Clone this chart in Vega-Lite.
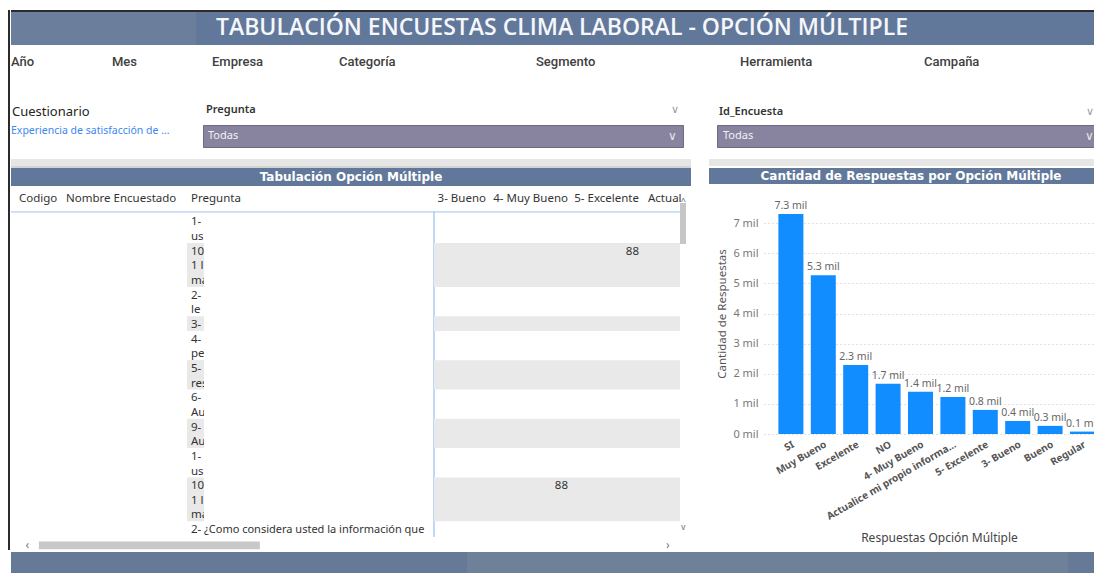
{
"$schema": "https://vega.github.io/schema/vega-lite/v6.json",
"usermeta": {"embedOptions": {"actions": false}},
"background": "white",
"padding": {"left": 8, "top": 10, "right": 0, "bottom": 0},
"config": {"view": {"stroke": null}, "font": "Noto Sans", "text": {"font": "Noto Sans"}},
"datasets": {
  "respuestas": [
    {"opcion": "SI", "respuestas": 7300},
    {"opcion": "Muy Bueno", "respuestas": 5270},
    {"opcion": "Excelente", "respuestas": 2290},
    {"opcion": "NO", "respuestas": 1670},
    {"opcion": "4- Muy Bueno", "respuestas": 1400},
    {"opcion": "Actualice mi propio información", "respuestas": 1230},
    {"opcion": "5- Excelente", "respuestas": 800},
    {"opcion": "3- Bueno", "respuestas": 430},
    {"opcion": "Bueno", "respuestas": 270},
    {"opcion": "Regular", "respuestas": 80}
  ],
  "bandas": [
    {"k0": 2.4, "k1": 5.4}, {"k0": 7.4, "k1": 8.4}, {"k0": 10.4, "k1": 12.4}, {"k0": 14.4, "k1": 16.4}, {"k0": 18.4, "k1": 21.4}
  ],
  "celdas": [
    {"col": "codigo", "tipo": "h", "k": -0.6, "t": "Codigo"},
    {"col": "nombre", "tipo": "h", "k": -0.6, "t": "Nombre Encuestado"},
    {"col": "pregunta", "tipo": "h", "k": -0.6, "t": "Pregunta"},
    {"col": "pregunta", "tipo": "b", "k": 1, "t": "1-"},
    {"col": "pregunta", "tipo": "b", "k": 2, "t": "us"},
    {"col": "pregunta", "tipo": "b", "k": 3, "t": "10"},
    {"col": "pregunta", "tipo": "b", "k": 4, "t": "1 l"},
    {"col": "pregunta", "tipo": "b", "k": 5, "t": "ma"},
    {"col": "pregunta", "tipo": "b", "k": 6, "t": "2-"},
    {"col": "pregunta", "tipo": "b", "k": 7, "t": "le"},
    {"col": "pregunta", "tipo": "b", "k": 8, "t": "3-"},
    {"col": "pregunta", "tipo": "b", "k": 9, "t": "4-"},
    {"col": "pregunta", "tipo": "b", "k": 10, "t": "pe"},
    {"col": "pregunta", "tipo": "b", "k": 11, "t": "5-"},
    {"col": "pregunta", "tipo": "b", "k": 12, "t": "res"},
    {"col": "pregunta", "tipo": "b", "k": 13, "t": "6-"},
    {"col": "pregunta", "tipo": "b", "k": 14, "t": "Au"},
    {"col": "pregunta", "tipo": "b", "k": 15, "t": "9-"},
    {"col": "pregunta", "tipo": "b", "k": 16, "t": "Au"},
    {"col": "pregunta", "tipo": "b", "k": 17, "t": "1-"},
    {"col": "pregunta", "tipo": "b", "k": 18, "t": "us"},
    {"col": "pregunta", "tipo": "b", "k": 19, "t": "10"},
    {"col": "pregunta", "tipo": "b", "k": 20, "t": "1 l"},
    {"col": "pregunta", "tipo": "b", "k": 21, "t": "ma"},
    {"col": "pregunta", "tipo": "b", "k": 22, "t": "2-"},
    {"col": "pregunta2", "tipo": "b", "k": 22, "t": "¿Como considera usted la información que"},
    {"col": "bueno3", "tipo": "h", "k": -0.6, "t": "3- Bueno"},
    {"col": "muybueno4", "tipo": "h", "k": -0.6, "t": "4- Muy Bueno"},
    {"col": "muybueno4", "tipo": "b", "k": 19, "t": "88"},
    {"col": "excelente5", "tipo": "h", "k": -0.6, "t": "5- Excelente"},
    {"col": "excelente5", "tipo": "b", "k": 3, "t": "88"},
    {"col": "actual", "tipo": "h", "k": -0.6, "t": "Actual"}
  ]
},
"spacing": 0,
"hconcat": [
  {"width": 2, "height": 540, "data": {"values": []}, "mark": "text", "view": {"fill": "#2b2b2b"}},
  {"spacing": 0, "vconcat": [
    {"width": 1084, "height": 2, "data": {"values": []}, "mark": "text", "view": {"fill": "#2b2b2b"}},
    {"spacing": 0, "bounds": "flush", "hconcat": [
      {"width": 185, "height": 33, "data": {"values": []}, "mark": "text", "view": {"fill": "#6b7f9c"}},
      {"width": 899, "height": 33, "view": {"fill": "#62789a"}, "data": {"values": [{"t": "TABULACIÓN ENCUESTAS CLIMA LABORAL - OPCIÓN MÚLTIPLE"}]},
       "mark": {"type": "text", "font": "Open Sans", "fontWeight": 600, "fontSize": 23, "color": "#f5f7fa", "dx": -83.5, "dy": -0.5},
       "encoding": {"text": {"field": "t"}}}
    ]},
    {"spacing": 0, "bounds": "flush", "hconcat": [
      {"width": 101, "height": 55, "data": {"values": [{"t": "Año"}]}, "mark": {"type": "text", "align": "left", "dy": -10.5, "font": "Roboto", "fontWeight": 500, "fontSize": 13, "color": "#404040"}, "encoding": {"text": {"field": "t"}, "x": {"datum": 0, "type": "quantitative", "scale": {"domain": [0, 1]}, "axis": null}}},
      {"width": 100, "height": 55, "data": {"values": [{"t": "Mes"}]}, "mark": {"type": "text", "align": "left", "dy": -10.5, "font": "Roboto", "fontWeight": 500, "fontSize": 13, "color": "#404040"}, "encoding": {"text": {"field": "t"}, "x": {"datum": 0, "type": "quantitative", "scale": {"domain": [0, 1]}, "axis": null}}},
      {"width": 127, "height": 55, "data": {"values": [{"t": "Empresa"}]}, "mark": {"type": "text", "align": "left", "dy": -10.5, "font": "Roboto", "fontWeight": 500, "fontSize": 13, "color": "#404040"}, "encoding": {"text": {"field": "t"}, "x": {"datum": 0, "type": "quantitative", "scale": {"domain": [0, 1]}, "axis": null}}},
      {"width": 197, "height": 55, "data": {"values": [{"t": "Categoría"}]}, "mark": {"type": "text", "align": "left", "dy": -10.5, "font": "Roboto", "fontWeight": 500, "fontSize": 13, "color": "#404040"}, "encoding": {"text": {"field": "t"}, "x": {"datum": 0, "type": "quantitative", "scale": {"domain": [0, 1]}, "axis": null}}},
      {"width": 204, "height": 55, "data": {"values": [{"t": "Segmento"}]}, "mark": {"type": "text", "align": "left", "dy": -10.5, "font": "Roboto", "fontWeight": 500, "fontSize": 13, "color": "#404040"}, "encoding": {"text": {"field": "t"}, "x": {"datum": 0, "type": "quantitative", "scale": {"domain": [0, 1]}, "axis": null}}},
      {"width": 184, "height": 55, "data": {"values": [{"t": "Herramienta"}]}, "mark": {"type": "text", "align": "left", "dy": -10.5, "font": "Roboto", "fontWeight": 500, "fontSize": 13, "color": "#404040"}, "encoding": {"text": {"field": "t"}, "x": {"datum": 0, "type": "quantitative", "scale": {"domain": [0, 1]}, "axis": null}}},
      {"width": 171, "height": 55, "data": {"values": [{"t": "Campaña"}]}, "mark": {"type": "text", "align": "left", "dy": -10.5, "font": "Roboto", "fontWeight": 500, "fontSize": 13, "color": "#404040"}, "encoding": {"text": {"field": "t"}, "x": {"datum": 0, "type": "quantitative", "scale": {"domain": [0, 1]}, "axis": null}}}
    ]},
    {"spacing": 0, "bounds": "flush", "hconcat": [
      {"width": 192, "height": 24, "data": {"values": [{"t": "Cuestionario"}]}, "mark": {"type": "text", "align": "left", "dx": 1, "fontSize": 13, "color": "#252423"}, "encoding": {"text": {"field": "t"}, "x": {"datum": 0, "type": "quantitative", "scale": {"domain": [0, 1]}, "axis": null}}},
      {"width": 480, "height": 24, "layer": [
        {"data": {"values": [{"t": "Pregunta"}]}, "mark": {"type": "text", "align": "left", "dx": 3, "dy": -2, "fontSize": 11, "fontWeight": 600, "color": "#333333"}, "encoding": {"text": {"field": "t"}, "x": {"datum": 0, "type": "quantitative", "scale": {"domain": [0, 1]}, "axis": null}}},
        {"data": {"values": [{"t": "∨"}]}, "mark": {"type": "text", "align": "right", "dx": -4, "dy": -2, "fontSize": 11, "color": "#9a9a9a"}, "encoding": {"text": {"field": "t"}, "x": {"datum": 1, "type": "quantitative", "scale": {"domain": [0, 1]}, "axis": null}}}
      ]},
      {"width": 34, "height": 24, "data": {"values": []}, "mark": "text"},
      {"width": 378, "height": 24, "layer": [
        {"data": {"values": [{"t": "Id_Encuesta"}]}, "mark": {"type": "text", "align": "left", "dx": 2, "fontSize": 11, "fontWeight": 600, "color": "#333333"}, "encoding": {"text": {"field": "t"}, "x": {"datum": 0, "type": "quantitative", "scale": {"domain": [0, 1]}, "axis": null}}},
        {"data": {"values": [{"t": "∨"}]}, "mark": {"type": "text", "align": "right", "dx": -1, "fontSize": 11, "color": "#9a9a9a"}, "encoding": {"text": {"field": "t"}, "x": {"datum": 1, "type": "quantitative", "scale": {"domain": [0, 1]}, "axis": null}}}
      ]}
    ]},
    {"spacing": 0, "bounds": "flush", "hconcat": [
      {"width": 192, "height": 22, "data": {"values": [{"t": "Experiencia de satisfacción de ..."}]}, "mark": {"type": "text", "align": "left", "dy": -5, "fontSize": 10.5, "color": "#3b87ef", "clip": true}, "encoding": {"text": {"field": "t"}, "x": {"datum": 0, "type": "quantitative", "scale": {"domain": [0, 1]}, "axis": null}}},
      {"width": 480, "height": 22, "view": {"fill": "#8884a0", "stroke": "#6d6a86"}, "layer": [
        {"data": {"values": [{"t": "Todas"}]}, "mark": {"type": "text", "align": "left", "dx": 5, "fontSize": 11, "color": "#f2f2f2"}, "encoding": {"text": {"field": "t"}, "x": {"datum": 0, "type": "quantitative", "scale": {"domain": [0, 1]}, "axis": null}}},
        {"data": {"values": [{"t": "∨"}]}, "mark": {"type": "text", "align": "right", "dx": -6, "fontSize": 12, "color": "#e6e6ee"}, "encoding": {"text": {"field": "t"}, "x": {"datum": 1, "type": "quantitative", "scale": {"domain": [0, 1]}, "axis": null}}}
      ]},
      {"width": 34, "height": 22, "data": {"values": []}, "mark": "text"},
      {"width": 378, "height": 22, "view": {"fill": "#8884a0", "stroke": "#6d6a86"}, "layer": [
        {"data": {"values": [{"t": "Todas"}]}, "mark": {"type": "text", "align": "left", "dx": 6, "fontSize": 11, "color": "#f2f2f2"}, "encoding": {"text": {"field": "t"}, "x": {"datum": 0, "type": "quantitative", "scale": {"domain": [0, 1]}, "axis": null}}},
        {"data": {"values": [{"t": "∨"}]}, "mark": {"type": "text", "align": "right", "dx": -1, "fontSize": 12, "color": "#e6e6ee"}, "encoding": {"text": {"field": "t"}, "x": {"datum": 1, "type": "quantitative", "scale": {"domain": [0, 1]}, "axis": null}}}
      ]}
    ]},
    {"width": 1084, "height": 11, "data": {"values": []}, "mark": "text"},
    {"spacing": 0, "bounds": "flush", "hconcat": [
      {"width": 680, "height": 7, "data": {"values": []}, "mark": "text", "view": {"fill": "#e6e6e6"}},
      {"width": 18, "height": 7, "data": {"values": []}, "mark": "text"},
      {"width": 386, "height": 7, "data": {"values": []}, "mark": "text", "view": {"fill": "#e6e6e6"}}
    ]},
    {"spacing": 0, "hconcat": [
      {"spacing": 0, "vconcat": [
        {"width": 680, "height": 2, "data": {"values": []}, "mark": "text", "view": {"fill": "#d4d4d4"}},
        {"width": 680, "height": 18, "view": {"fill": "#62789a"}, "data": {"values": [{"t": "Tabulación Opción Múltiple"}]}, "mark": {"type": "text", "font": "DejaVu Sans", "fontWeight": "bold", "fontSize": 12, "color": "white"}, "encoding": {"text": {"field": "t"}}},
        {"spacing": 0, "bounds": "flush", "hconcat": [
          {"width": 52, "height": 351, "layer": [
            {"data": {"name": "celdas"}, "transform": [{"filter": "datum.col == 'codigo'"}], "mark": {"type": "text", "align": "left", "dx": 8, "fontSize": 11.5, "color": "#333333"}, "encoding": {"x": {"datum": 0, "type": "quantitative", "scale": {"domain": [0, 1]}, "axis": null}, "y": {"field": "k", "type": "quantitative", "scale": {"domain": [-1.49, 22.47], "reverse": true, "nice": false, "zero": false}, "axis": null}, "text": {"field": "t"}}},
            {"data": {"values": [{"k": 0.28}]}, "mark": {"type": "rule", "color": "#9cc3ee"}, "encoding": {"y": {"field": "k", "type": "quantitative", "scale": {"domain": [-1.49, 22.47], "reverse": true, "nice": false, "zero": false}, "axis": null}}}
          ]},
          {"width": 124, "height": 351, "layer": [
            {"data": {"name": "celdas"}, "transform": [{"filter": "datum.col == 'nombre'"}], "mark": {"type": "text", "align": "left", "dx": 3, "fontSize": 11.5, "color": "#333333"}, "encoding": {"x": {"datum": 0, "type": "quantitative", "scale": {"domain": [0, 1]}, "axis": null}, "y": {"field": "k", "type": "quantitative", "scale": {"domain": [-1.49, 22.47], "reverse": true, "nice": false, "zero": false}, "axis": null}, "text": {"field": "t"}}},
            {"data": {"values": [{"k": 0.28}]}, "mark": {"type": "rule", "color": "#9cc3ee"}, "encoding": {"y": {"field": "k", "type": "quantitative", "scale": {"domain": [-1.49, 22.47], "reverse": true, "nice": false, "zero": false}, "axis": null}}}
          ]},
          {"width": 17, "height": 351, "layer": [
            {"data": {"name": "bandas"}, "mark": {"type": "rect", "color": "#e9e9e9"}, "encoding": {"x": {"datum": 0, "type": "quantitative", "scale": {"domain": [0, 1]}, "axis": null}, "x2": {"datum": 1}, "y": {"field": "k0", "type": "quantitative", "scale": {"domain": [-1.49, 22.47], "reverse": true, "nice": false, "zero": false}, "axis": null}, "y2": {"field": "k1"}}},
            {"data": {"name": "celdas"}, "transform": [{"filter": "datum.col == 'pregunta' && datum.tipo == 'h'"}], "mark": {"type": "text", "align": "left", "dx": 4, "fontSize": 11.5, "color": "#333333"}, "encoding": {"x": {"datum": 0, "type": "quantitative", "scale": {"domain": [0, 1]}, "axis": null}, "y": {"field": "k", "type": "quantitative", "scale": {"domain": [-1.49, 22.47], "reverse": true, "nice": false, "zero": false}, "axis": null}, "text": {"field": "t"}}},
            {"data": {"name": "celdas"}, "transform": [{"filter": "datum.col == 'pregunta' && datum.tipo == 'b'"}], "mark": {"type": "text", "align": "left", "dx": 4, "fontSize": 11.5, "color": "#333333", "clip": true}, "encoding": {"x": {"datum": 0, "type": "quantitative", "scale": {"domain": [0, 1]}, "axis": null}, "y": {"field": "k", "type": "quantitative", "scale": {"domain": [-1.49, 22.47], "reverse": true, "nice": false, "zero": false}, "axis": null}, "text": {"field": "t"}}},
            {"data": {"values": [{"k": 0.28}]}, "mark": {"type": "rule", "color": "#9cc3ee"}, "encoding": {"y": {"field": "k", "type": "quantitative", "scale": {"domain": [-1.49, 22.47], "reverse": true, "nice": false, "zero": false}, "axis": null}}}
          ]},
          {"width": 230, "height": 351, "layer": [
            {"data": {"name": "celdas"}, "transform": [{"filter": "datum.col == 'pregunta2'"}], "mark": {"type": "text", "align": "left", "fontSize": 11, "color": "#333333", "clip": true}, "encoding": {"x": {"datum": 0, "type": "quantitative", "scale": {"domain": [0, 1]}, "axis": null}, "y": {"field": "k", "type": "quantitative", "scale": {"domain": [-1.49, 22.47], "reverse": true, "nice": false, "zero": false}, "axis": null}, "text": {"field": "t"}}},
            {"data": {"values": [{"k": 0.28}]}, "mark": {"type": "rule", "color": "#9cc3ee"}, "encoding": {"y": {"field": "k", "type": "quantitative", "scale": {"domain": [-1.49, 22.47], "reverse": true, "nice": false, "zero": false}, "axis": null}}},
            {"data": {"values": [{}]}, "mark": {"type": "rule", "color": "#7fb2ec"}, "encoding": {"x": {"datum": 1, "type": "quantitative", "scale": {"domain": [0, 1]}, "axis": null}, "y": {"datum": 0.28, "type": "quantitative", "scale": {"domain": [-1.49, 22.47], "reverse": true, "nice": false, "zero": false}, "axis": null}, "y2": {"datum": 22.47}}}
          ]},
          {"width": 58, "height": 351, "layer": [
            {"data": {"name": "bandas"}, "mark": {"type": "rect", "color": "#e9e9e9"}, "encoding": {"x": {"datum": 0, "type": "quantitative", "scale": {"domain": [0, 1]}, "axis": null}, "x2": {"datum": 1}, "y": {"field": "k0", "type": "quantitative", "scale": {"domain": [-1.49, 22.47], "reverse": true, "nice": false, "zero": false}, "axis": null}, "y2": {"field": "k1"}}},
            {"data": {"name": "celdas"}, "transform": [{"filter": "datum.col == 'bueno3'"}], "mark": {"type": "text", "align": "right", "dx": -6, "fontSize": 11.5, "color": "#333333"}, "encoding": {"x": {"datum": 1, "type": "quantitative", "scale": {"domain": [0, 1]}, "axis": null}, "y": {"field": "k", "type": "quantitative", "scale": {"domain": [-1.49, 22.47], "reverse": true, "nice": false, "zero": false}, "axis": null}, "text": {"field": "t"}}},
            {"data": {"values": [{"k": 0.28}]}, "mark": {"type": "rule", "color": "#9cc3ee"}, "encoding": {"y": {"field": "k", "type": "quantitative", "scale": {"domain": [-1.49, 22.47], "reverse": true, "nice": false, "zero": false}, "axis": null}}}
          ]},
          {"width": 80, "height": 351, "layer": [
            {"data": {"name": "bandas"}, "mark": {"type": "rect", "color": "#e9e9e9"}, "encoding": {"x": {"datum": 0, "type": "quantitative", "scale": {"domain": [0, 1]}, "axis": null}, "x2": {"datum": 1}, "y": {"field": "k0", "type": "quantitative", "scale": {"domain": [-1.49, 22.47], "reverse": true, "nice": false, "zero": false}, "axis": null}, "y2": {"field": "k1"}}},
            {"data": {"name": "celdas"}, "transform": [{"filter": "datum.col == 'muybueno4'"}], "mark": {"type": "text", "align": "right", "dx": -4, "fontSize": 11.5, "color": "#333333"}, "encoding": {"x": {"datum": 1, "type": "quantitative", "scale": {"domain": [0, 1]}, "axis": null}, "y": {"field": "k", "type": "quantitative", "scale": {"domain": [-1.49, 22.47], "reverse": true, "nice": false, "zero": false}, "axis": null}, "text": {"field": "t"}}},
            {"data": {"values": [{"k": 0.28}]}, "mark": {"type": "rule", "color": "#9cc3ee"}, "encoding": {"y": {"field": "k", "type": "quantitative", "scale": {"domain": [-1.49, 22.47], "reverse": true, "nice": false, "zero": false}, "axis": null}}}
          ]},
          {"width": 72, "height": 351, "layer": [
            {"data": {"name": "bandas"}, "mark": {"type": "rect", "color": "#e9e9e9"}, "encoding": {"x": {"datum": 0, "type": "quantitative", "scale": {"domain": [0, 1]}, "axis": null}, "x2": {"datum": 1}, "y": {"field": "k0", "type": "quantitative", "scale": {"domain": [-1.49, 22.47], "reverse": true, "nice": false, "zero": false}, "axis": null}, "y2": {"field": "k1"}}},
            {"data": {"name": "celdas"}, "transform": [{"filter": "datum.col == 'excelente5'"}], "mark": {"type": "text", "align": "right", "dx": -5, "fontSize": 11.5, "color": "#333333"}, "encoding": {"x": {"datum": 1, "type": "quantitative", "scale": {"domain": [0, 1]}, "axis": null}, "y": {"field": "k", "type": "quantitative", "scale": {"domain": [-1.49, 22.47], "reverse": true, "nice": false, "zero": false}, "axis": null}, "text": {"field": "t"}}},
            {"data": {"values": [{"k": 0.28}]}, "mark": {"type": "rule", "color": "#9cc3ee"}, "encoding": {"y": {"field": "k", "type": "quantitative", "scale": {"domain": [-1.49, 22.47], "reverse": true, "nice": false, "zero": false}, "axis": null}}}
          ]},
          {"width": 36, "height": 351, "layer": [
            {"data": {"name": "bandas"}, "mark": {"type": "rect", "color": "#e9e9e9"}, "encoding": {"x": {"datum": 0, "type": "quantitative", "scale": {"domain": [0, 1]}, "axis": null}, "x2": {"datum": 1}, "y": {"field": "k0", "type": "quantitative", "scale": {"domain": [-1.49, 22.47], "reverse": true, "nice": false, "zero": false}, "axis": null}, "y2": {"field": "k1"}}},
            {"data": {"name": "celdas"}, "transform": [{"filter": "datum.col == 'actual'"}], "mark": {"type": "text", "align": "left", "dx": 4, "fontSize": 11.5, "color": "#333333"}, "encoding": {"x": {"datum": 0, "type": "quantitative", "scale": {"domain": [0, 1]}, "axis": null}, "y": {"field": "k", "type": "quantitative", "scale": {"domain": [-1.49, 22.47], "reverse": true, "nice": false, "zero": false}, "axis": null}, "text": {"field": "t"}}},
            {"data": {"values": [{"k": 0.28}]}, "mark": {"type": "rule", "color": "#9cc3ee"}, "encoding": {"y": {"field": "k", "type": "quantitative", "scale": {"domain": [-1.49, 22.47], "reverse": true, "nice": false, "zero": false}, "axis": null}}}
          ]},
          {"width": 11, "height": 351, "layer": [
            {"data": {"values": [{}]}, "mark": {"type": "rect", "color": "#c6c6c6"}, "encoding": {"x": {"datum": 0, "type": "quantitative", "scale": {"domain": [0, 1]}, "axis": null}, "x2": {"datum": 0.55}, "y": {"datum": -0.33, "type": "quantitative", "scale": {"domain": [-1.49, 22.47], "reverse": true, "nice": false, "zero": false}, "axis": null}, "y2": {"datum": 2.47}}},
            {"data": {"values": [{"t": "^"}]}, "mark": {"type": "text", "fontSize": 9, "color": "#555555"}, "encoding": {"x": {"datum": 0.3, "type": "quantitative", "scale": {"domain": [0, 1]}, "axis": null}, "y": {"datum": -0.5, "type": "quantitative", "scale": {"domain": [-1.49, 22.47], "reverse": true, "nice": false, "zero": false}, "axis": null}, "text": {"field": "t"}}},
            {"data": {"values": [{"t": "v"}]}, "mark": {"type": "text", "fontSize": 8, "color": "#666666"}, "encoding": {"x": {"datum": 0.3, "type": "quantitative", "scale": {"domain": [0, 1]}, "axis": null}, "y": {"datum": 21.85, "type": "quantitative", "scale": {"domain": [-1.49, 22.47], "reverse": true, "nice": false, "zero": false}, "axis": null}, "text": {"field": "t"}}}
          ]}
        ]},
        {"width": 680, "height": 14, "layer": [
          {"data": {"values": [{}]}, "mark": {"type": "rect", "color": "#c8c8c8"}, "encoding": {"x": {"datum": 0.041, "type": "quantitative", "scale": {"domain": [0, 1]}, "axis": null}, "x2": {"datum": 0.366}, "y": {"datum": 0.2, "type": "quantitative", "scale": {"domain": [0, 1]}, "axis": null}, "y2": {"datum": 0.75}}},
          {"data": {"values": [{"t": "‹"}]}, "mark": {"type": "text", "fontSize": 12, "color": "#777777"}, "encoding": {"x": {"datum": 0.024, "type": "quantitative", "scale": {"domain": [0, 1]}, "axis": null}, "text": {"field": "t"}}},
          {"data": {"values": [{"t": "›"}]}, "mark": {"type": "text", "fontSize": 12, "color": "#777777"}, "encoding": {"x": {"datum": 0.966, "type": "quantitative", "scale": {"domain": [0, 1]}, "axis": null}, "text": {"field": "t"}}}
        ]}
      ]},
      {"width": 18, "height": 385, "data": {"values": []}, "mark": "text"},
      {"spacing": 0, "vconcat": [
        {"width": 386, "height": 2, "data": {"values": []}, "mark": "text"},
        {"width": 386, "height": 16, "view": {"fill": "#62789a"}, "data": {"values": [{"t": "Cantidad de Respuestas por Opción Múltiple"}]}, "mark": {"type": "text", "font": "DejaVu Sans", "fontWeight": "bold", "fontSize": 12, "color": "white", "dx": 9}, "encoding": {"text": {"field": "t"}}},
        {"width": 386, "height": 9, "data": {"values": []}, "mark": "text"},
        {"spacing": 0, "bounds": "flush", "hconcat": [
          {"width": 55, "height": 241, "data": {"values": []}, "mark": "text"},
          {"width": 331, "height": 241,
           "data": {"name": "respuestas"},
           "transform": [{"calculate": "format(datum.respuestas / 1000, '.1f') + ' mil'", "as": "etiqueta"}],
           "encoding": {
             "x": {"field": "opcion", "type": "nominal", "sort": null,
                   "scale": {"paddingInner": 0.228, "paddingOuter": 0.222, "align": 1},
                   "axis": {"title": "Respuestas Opción Múltiple", "labelAngle": -30, "labelFont": "Noto Sans", "labelFontWeight": "bold", "labelFontSize": 10, "labelColor": "#555555", "labelLimit": 150, "ticks": false, "domain": false, "labelPadding": 5, "titleFont": "Noto Sans", "titleFontSize": 12, "titleFontWeight": "normal", "titleColor": "#444444", "titleX": 175, "titlePadding": 11}},
             "y": {"field": "respuestas", "type": "quantitative", "scale": {"domain": [0, 8000], "nice": false},
                   "axis": {"title": "Cantidad de Respuestas", "values": [0, 1000, 2000, 3000, 4000, 5000, 6000, 7000], "labelExpr": "format(datum.value / 1000, 'd') + ' mil'", "grid": true, "gridDash": [1, 3], "gridColor": "#c4c4c4", "domain": false, "ticks": false, "labelPadding": 6, "labelFont": "Noto Sans", "labelFontSize": 11, "labelColor": "#777777", "titleFont": "Noto Sans", "titleFontSize": 11.5, "titleFontWeight": "normal", "titleColor": "#555555", "titlePadding": 5}}
           },
           "layer": [
             {"mark": {"type": "bar", "color": "#118dff", "clip": true}},
             {"mark": {"type": "text", "baseline": "bottom", "dy": -3, "fontSize": 10.5, "color": "#666666", "clip": true}, "encoding": {"text": {"field": "etiqueta"}}}
           ]}
        ]}
      ]}
    ]},
    {"spacing": 0, "bounds": "flush", "hconcat": [
      {"width": 456, "height": 23, "data": {"values": []}, "mark": "text", "view": {"fill": "#667a98"}},
      {"width": 601, "height": 23, "data": {"values": []}, "mark": "text", "view": {"fill": "#6e8199"}},
      {"width": 27, "height": 23, "data": {"values": []}, "mark": "text", "view": {"fill": "#667a98"}}
    ]}
  ]}
]
}
